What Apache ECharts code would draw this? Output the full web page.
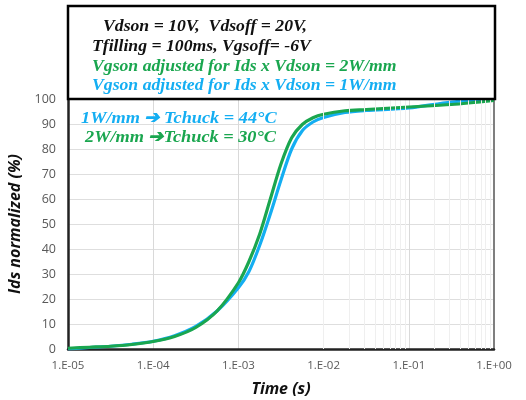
<!DOCTYPE html>
<html>
<head>
<meta charset="utf-8">
<script src="https://cdn.jsdelivr.net/npm/echarts@6/dist/echarts.min.js"></script>
<style>
  html, body { margin: 0; padding: 0; background: #fff; }
  #chart { width: 526px; height: 400px; }
</style>
</head>
<body>
<div id="chart"></div>
<script>
// time in s (same sampling for both curves)
const times = [1e-5, 1.78e-5, 3.16e-5, 5.62e-5, 1e-4, 1.78e-4, 3.16e-4, 5.62e-4, 1e-3, 1.33e-3, 1.78e-3, 2.37e-3, 3.16e-3, 4.22e-3, 5.62e-3, 7.5e-3, 1e-2, 1.78e-2, 3.16e-2, 0.1, 0.316, 1];
// Ids normalized (%), Ids x Vdson = 2W/mm (green)
const ids2W = [0.3, 0.7, 1.1, 1.8, 3.0, 5.0, 8.6, 15.2, 26.5, 35.0, 46.0, 60.0, 74.0, 84.5, 89.8, 92.5, 93.9, 95.3, 95.8, 96.8, 97.8, 99.4];
// Ids normalized (%), Ids x Vdson = 1W/mm (blue)
const ids1W = [0, 0.6, 1.1, 1.9, 3.1, 5.3, 9.0, 15.2, 24.5, 31.0, 41.5, 54.0, 67.6, 80.0, 87.3, 90.8, 92.6, 94.6, 95.4, 96.4, 98.8, 100];

const xMin = 1e-5, xMax = 1;
const yTicks = [0, 10, 20, 30, 40, 50, 60, 70, 80, 90, 100];

const titleLines = [
  { text: 'Vdson = 10V,  Vdsoff = 20V,', color: '#111111', x: 103, y: 27 },
  { text: 'Tfilling = 100ms, Vgsoff= -6V', color: '#111111', x: 92, y: 47 },
  { text: 'Vgson adjusted for Ids x Vdson = 2W/mm', color: '#1aa64f', x: 92, y: 67 },
  { text: 'Vgson adjusted for Ids x Vdson = 1W/mm', color: '#14aef2', x: 92, y: 86 }
];
const notes = [
  { text: '1W/mm \u2794 Tchuck = 44\u00B0C', color: '#14aef2', x: 81, y: 119 },
  { text: '2W/mm \u2794Tchuck = 30\u00B0C', color: '#1aa64f', x: 85, y: 138 }
];

// minor vertical grid lines at 2..9 of each decade
const minorX = [];
for (let e = -5; e < 0; e++) {
  for (let m = 2; m <= 9; m++) minorX.push({ xAxis: m * Math.pow(10, e) });
}

function pairs(xs, ys) {
  return xs.map((x, i) => [x, ys[i]]);
}

function expLabel(v) {
  const e = Math.round(Math.log10(v));
  const s = e < 0 ? '-' : '+';
  const a = Math.abs(e);
  return '1.E' + s + (a < 10 ? '0' + a : a);
}

const chart = echarts.init(document.getElementById('chart'));

const graphics = [
  {
    type: 'rect',
    shape: { x: 68, y: 6, width: 427, height: 93 },
    style: { fill: '#ffffff', stroke: '#000000', lineWidth: 2.5 },
    z: 10
  }
];
titleLines.forEach(function (t) {
  graphics.push({
    type: 'text', x: t.x, y: t.y, z: 11, scaleY: 0.95,
    style: {
      text: t.text, fill: t.color,
      font: 'italic bold 17.7px "Liberation Serif", serif',
      verticalAlign: 'middle'
    }
  });
});
notes.forEach(function (t) {
  graphics.push({
    type: 'text', x: t.x, y: t.y, z: 11, scaleY: 0.95,
    style: {
      text: t.text, fill: t.color,
      font: 'italic bold 18.3px "Liberation Serif", serif',
      verticalAlign: 'middle'
    }
  });
});

chart.setOption({
  animation: false,
  backgroundColor: '#ffffff',
  grid: { left: 68, right: 32, top: 99, bottom: 51, outerBoundsMode: 'none' },
  xAxis: {
    type: 'log',
    logBase: 10,
    min: xMin,
    max: xMax,
    name: 'Time (s)',
    nameLocation: 'middle',
    nameGap: 32,
    nameTextStyle: { fontFamily: 'Open Sans', fontWeight: 'bold', fontStyle: 'italic', fontSize: 16, color: '#111' },
    axisLine: { onZero: false, lineStyle: { color: '#222', width: 2.5 } },
    axisTick: { show: false },
    axisLabel: { formatter: expLabel, color: '#595959', fontFamily: 'Open Sans', fontSize: 11.5, margin: 11 },
    splitLine: { show: true, lineStyle: { color: '#d9d9d9', width: 1 } }
  },
  yAxis: [
    {
      type: 'value',
      min: 0,
      max: 100,
      interval: 10,
      name: 'Ids normalized (%)',
      nameLocation: 'middle',
      nameGap: 36,
      nameTextStyle: { fontFamily: 'Open Sans', fontWeight: 'bold', fontStyle: 'italic', fontSize: 16, color: '#111' },
      axisLine: { show: true, lineStyle: { color: '#222', width: 2.5 } },
      axisTick: { show: false },
      axisLabel: {
        color: '#595959', fontFamily: 'Open Sans', fontSize: 12.5, margin: 12,
        formatter: function (v) { return yTicks.indexOf(v) >= 0 ? String(v) : ''; }
      },
      splitLine: { show: true, lineStyle: { color: '#dedede', width: 1 } }
    },
    {
      type: 'value',
      min: 0,
      max: 100,
      position: 'right',
      axisLine: { show: true, lineStyle: { color: '#7f7f7f', width: 2 } },
      axisTick: { show: false },
      axisLabel: { show: false },
      splitLine: { show: false }
    }
  ],
  series: [
    {
      type: 'line',
      data: [],
      silent: true,
      markLine: {
        silent: true,
        symbol: 'none',
        label: { show: false },
        lineStyle: { color: '#efefef', width: 1, type: 'solid' },
        data: minorX
      },
      z: 1
    },
    {
      name: '1W/mm',
      type: 'line',
      data: pairs(times, ids1W),
      smooth: 0.3,
      showSymbol: false,
      lineStyle: { color: '#14aef2', width: 3.2 },
      z: 3
    },
    {
      name: '2W/mm',
      type: 'line',
      data: pairs(times, ids2W),
      smooth: 0.3,
      showSymbol: false,
      lineStyle: { color: '#1aa64f', width: 3.2 },
      z: 4
    }
  ],
  graphic: graphics
});
</script>
</body>
</html>
